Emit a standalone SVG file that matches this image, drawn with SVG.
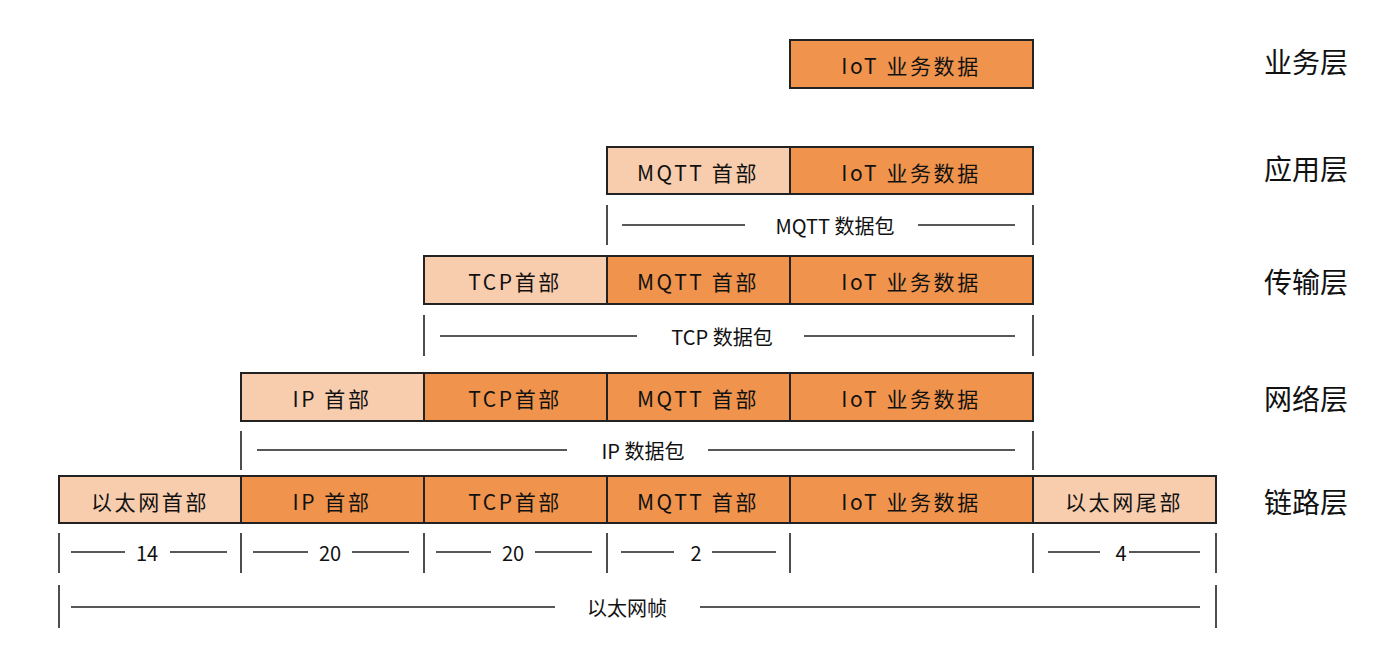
<svg xmlns="http://www.w3.org/2000/svg" width="1400" height="663" viewBox="0 0 1400 663">
<style>
.dk{fill:#F0944D;stroke:#222;stroke-width:2}
.lt{fill:#F8CDAE;stroke:#222;stroke-width:2}
.bt{font-family:"Noto Sans CJK SC","Noto Sans",sans-serif;font-size:21px;fill:#111;text-anchor:middle;dominant-baseline:central;letter-spacing:2.6px}
.lb{font-family:"Noto Sans CJK SC","Noto Sans",sans-serif;font-size:20px;fill:#111;text-anchor:middle;dominant-baseline:central}
.ly{font-family:"Noto Sans CJK SC","Noto Sans",sans-serif;font-size:28px;fill:#111;text-anchor:middle;dominant-baseline:central}
.ln{stroke:#222;stroke-width:1.6;fill:none}
</style>
<rect width="1400" height="663" fill="#fff"/>
<g id="row-business">
<rect class="dk" x="790" y="40" width="243" height="48"/>
<text class="bt" x="911" y="65">IoT 业务数据</text>
</g>
<g id="row-app">
<rect class="lt" x="607" y="147" width="183" height="47"/>
<text class="bt" x="698" y="172">MQTT 首部</text>
<rect class="dk" x="790" y="147" width="243" height="47"/>
<text class="bt" x="911" y="172">IoT 业务数据</text>
</g>
<g id="row-transport">
<rect class="lt" x="424" y="256" width="183" height="48"/>
<text class="bt" x="515" y="281">TCP首部</text>
<rect class="dk" x="607" y="256" width="183" height="48"/>
<text class="bt" x="698" y="281">MQTT 首部</text>
<rect class="dk" x="790" y="256" width="243" height="48"/>
<text class="bt" x="911" y="281">IoT 业务数据</text>
</g>
<g id="row-network">
<rect class="lt" x="241" y="373" width="183" height="48"/>
<text class="bt" x="332" y="398">IP 首部</text>
<rect class="dk" x="424" y="373" width="183" height="48"/>
<text class="bt" x="515" y="398">TCP首部</text>
<rect class="dk" x="607" y="373" width="183" height="48"/>
<text class="bt" x="698" y="398">MQTT 首部</text>
<rect class="dk" x="790" y="373" width="243" height="48"/>
<text class="bt" x="911" y="398">IoT 业务数据</text>
</g>
<g id="row-link">
<rect class="lt" x="59" y="476" width="182" height="47"/>
<text class="bt" x="150" y="501">以太网首部</text>
<rect class="dk" x="241" y="476" width="183" height="47"/>
<text class="bt" x="332" y="501">IP 首部</text>
<rect class="dk" x="424" y="476" width="183" height="47"/>
<text class="bt" x="515" y="501">TCP首部</text>
<rect class="dk" x="607" y="476" width="183" height="47"/>
<text class="bt" x="698" y="501">MQTT 首部</text>
<rect class="dk" x="790" y="476" width="243" height="47"/>
<text class="bt" x="911" y="501">IoT 业务数据</text>
<rect class="lt" x="1033" y="476" width="183" height="47"/>
<text class="bt" x="1124" y="501">以太网尾部</text>
</g>
<g id="layers">
<text class="ly" x="1306" y="61">业务层</text>
<text class="ly" x="1306" y="168">应用层</text>
<text class="ly" x="1306" y="281">传输层</text>
<text class="ly" x="1306" y="398">网络层</text>
<text class="ly" x="1306" y="501">链路层</text>
</g>
<g id="connectors">
<path class="ln" d="M607 205V245M1033 205V245M622 225H745M918 225H1015"/>
<path class="ln" d="M424 315V356M1033 315V356M440 336H637M804 336H1015"/>
<path class="ln" d="M241 431V470M1033 431V470M257 450H567M708 450H1015"/>
<path class="ln" d="M59 533V573M241 533V573M424 533V573M607 533V573M790 533V573M1033 533V573M1216 533V573"/>
<path class="ln" d="M71 552H125M170 552H227M253 552H308M352 552H409M436 552H491M535 552H592M621 552H674M712 552H776M1048 552H1100M1129 552H1200"/>
<path class="ln" d="M59 585V628M1216 585V628M71 607H555M700 607H1200"/>
</g>
<g id="labels">
<text class="lb" x="835" y="225">MQTT 数据包</text>
<text class="lb" x="722" y="336">TCP 数据包</text>
<text class="lb" x="643" y="450">IP 数据包</text>
<text class="lb" x="147" y="552">14</text>
<text class="lb" x="330" y="552">20</text>
<text class="lb" x="513" y="552">20</text>
<text class="lb" x="696" y="552">2</text>
<text class="lb" x="1121" y="552">4</text>
<text class="lb" x="627" y="607">以太网帧</text>
</g>
</svg>
